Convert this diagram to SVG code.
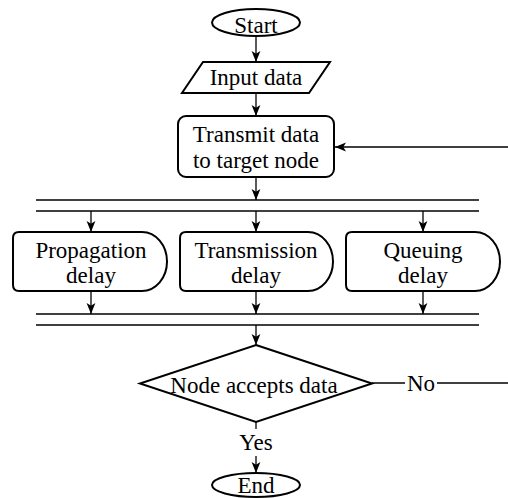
<svg xmlns="http://www.w3.org/2000/svg" width="508" height="498" viewBox="0 0 508 498">
<style>
.shape{fill:#fff;stroke:#000;stroke-width:2}
.conn{fill:none;stroke:#000;stroke-width:1.3}
.t{font-size:23px;fill:#000;text-anchor:middle}
</style>
<defs>
<marker id="arr" markerUnits="userSpaceOnUse" markerWidth="11" markerHeight="11" viewBox="0 0 10 10" refX="10" refY="5" orient="auto">
<path d="M0,1 L10,5 L0,9 L2.5,5 Z" fill="#000"/>
</marker>
</defs>
<rect width="508" height="498" fill="#fff"/>
<g font-family="'Liberation Serif', 'Times New Roman', serif">
<g id="connectors">
<line class="conn" x1="256" y1="36" x2="256" y2="62" marker-end="url(#arr)"/>
<line class="conn" x1="256" y1="93" x2="256" y2="116" marker-end="url(#arr)"/>
<line class="conn" x1="256" y1="177" x2="256" y2="200" marker-end="url(#arr)"/>
<line class="conn" x1="36" y1="200" x2="479" y2="200"/>
<line class="conn" x1="36" y1="211" x2="479" y2="211"/>
<line class="conn" x1="91" y1="211" x2="91" y2="232" marker-end="url(#arr)"/>
<line class="conn" x1="256" y1="211" x2="256" y2="232" marker-end="url(#arr)"/>
<line class="conn" x1="423" y1="211" x2="423" y2="232" marker-end="url(#arr)"/>
<line class="conn" x1="91" y1="291" x2="91" y2="314" marker-end="url(#arr)"/>
<line class="conn" x1="256" y1="291" x2="256" y2="314" marker-end="url(#arr)"/>
<line class="conn" x1="423" y1="291" x2="423" y2="314" marker-end="url(#arr)"/>
<line class="conn" x1="36" y1="314" x2="479" y2="314"/>
<line class="conn" x1="36" y1="325" x2="479" y2="325"/>
<line class="conn" x1="256" y1="325" x2="256" y2="345" marker-end="url(#arr)"/>
<line class="conn" x1="372" y1="383" x2="405" y2="383"/>
<text class="t" x="421" y="391">No</text>
<line class="conn" x1="437" y1="383" x2="508" y2="383"/>
<line class="conn" x1="508" y1="147" x2="335" y2="147" marker-end="url(#arr)"/>
<line class="conn" x1="256" y1="422" x2="256" y2="429"/>
<text class="t" x="256" y="450">Yes</text>
<line class="conn" x1="256" y1="456" x2="256" y2="473" marker-end="url(#arr)"/>
</g>
<g id="start">
<ellipse class="shape" cx="256" cy="22.5" rx="44" ry="13.5"/>
<text class="t" x="256" y="33">Start</text>
</g>
<g id="input">
<polygon class="shape" points="203,62 330,62 309,93 182,93"/>
<text class="t" x="256" y="85">Input data</text>
</g>
<g id="transmit">
<rect class="shape" x="178" y="116" width="156" height="61" rx="8"/>
<text class="t" x="256" y="142">Transmit data</text>
<text class="t" x="256" y="168">to target node</text>
</g>
<g id="propagation">
<path class="shape" d="M19,232 H142 A25 29.5 0 0 1 142,291 H19 Q13,291 13,285 V238 Q13,232 19,232 Z"/>
<text class="t" x="91" y="258">Propagation</text>
<text class="t" x="91" y="283">delay</text>
</g>
<g id="transmission">
<path class="shape" d="M186,232 H308 A25 29.5 0 0 1 308,291 H186 Q180,291 180,285 V238 Q180,232 186,232 Z"/>
<text class="t" x="256" y="258">Transmission</text>
<text class="t" x="256" y="283">delay</text>
</g>
<g id="queuing">
<path class="shape" d="M352,232 H475 A25 29.5 0 0 1 475,291 H352 Q346,291 346,285 V238 Q346,232 352,232 Z"/>
<text class="t" x="423" y="258">Queuing</text>
<text class="t" x="423" y="283">delay</text>
</g>
<g id="decision">
<polygon class="shape" points="256,345 372,383.5 256,422 140,383.5"/>
<text class="t" x="254" y="393">Node accepts data</text>
</g>
<g id="end">
<ellipse class="shape" cx="256" cy="485" rx="44" ry="12"/>
<text class="t" x="256" y="493">End</text>
</g>
</g>
</svg>
